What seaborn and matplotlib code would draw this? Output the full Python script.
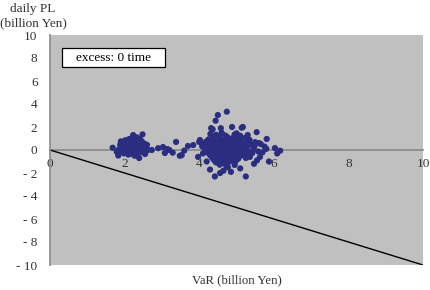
import matplotlib
matplotlib.use("Agg")
import matplotlib.pyplot as plt
import matplotlib.patches as mpatches
import seaborn as sns
import pandas as pd

# ---- data ----
cluster_a = [
    (1.68, 0.20), (1.79, -0.15), (1.83, -0.48), (1.85, 0.05), (1.88, 0.45), (1.90, 0.75),
    (1.92, -0.10), (1.95, 0.30), (1.97, 0.60), (1.98, -0.30), (2.00, 0.10), (2.02, 0.85),
    (2.03, 0.40), (2.05, -0.20), (2.06, 0.15), (2.08, 0.65), (2.10, -0.40), (2.10, 0.30),
    (2.12, 0.95), (2.13, 0.05), (2.15, 0.50), (2.16, -0.15), (2.18, 0.25), (2.19, 0.75),
    (2.20, 1.05), (2.21, -0.35), (2.22, 0.10), (2.23, 1.30), (2.24, 0.45), (2.25, -0.05),
    (2.26, 0.60), (2.27, 0.20), (2.28, 0.90), (2.29, -0.25), (2.30, 0.35), (2.31, 0.70),
    (2.32, 0.00), (2.33, 1.10), (2.34, 0.50), (2.35, -0.45), (2.36, 0.25), (2.37, 0.80),
    (2.38, 0.10), (2.39, -0.70), (2.40, 0.40), (2.41, 0.95), (2.42, -0.10), (2.43, 0.60),
    (2.45, 0.20), (2.46, 0.75), (2.48, 1.36), (2.49, -0.20), (2.50, 0.35), (2.52, 0.05),
    (2.53, 0.55), (2.55, -0.35), (2.57, 0.20), (2.60, 0.45), (2.63, 0.00), (2.00, 0.55),
    (2.14, 0.70), (2.27, -0.50), (2.44, 0.30), (2.35, 0.15),
]
bridge = [
    (2.73, 0.00), (2.90, 0.16), (3.03, 0.26), (3.08, -0.26), (3.20, 0.00), (3.29, -0.23),
    (3.38, 0.70), (3.48, -0.50), (3.53, -0.45), (3.70, 0.35), (3.84, 0.43), (4.00, 0.70),
    (3.15, 0.08), (3.60, -0.05),
]
cluster_c_outer = [
    (4.74, 3.33), (4.50, 3.04), (4.44, 2.55), (4.32, 1.90), (4.36, 1.80), (4.58, 1.90),
    (4.88, 2.00), (5.14, 1.94), (5.17, 2.00), (5.54, 1.55), (5.81, 0.96), (6.17, -0.06),
    (6.09, -0.30), (6.03, 0.17), (5.87, -1.00), (5.47, -1.20), (5.63, -0.60), (5.36, -0.60),
    (5.25, -2.30), (4.42, -2.30), (4.56, -2.00), (4.29, -1.70), (4.77, -1.50), (4.02, 0.87),
    (3.97, -0.60), (4.16, 0.17), (4.30, 1.40), (4.60, 1.50), (5.00, 1.45), (5.30, 1.30),
    (5.60, 0.60), (5.75, 0.30), (5.70, -0.20), (5.55, -0.90), (5.10, -1.60), (4.95, -1.30),
    (4.65, -1.80), (4.85, -1.90), (4.10, -0.30), (4.20, -1.00),
]
cluster_c_core = [
    (4.45, 1.32), (4.70, 1.26), (4.95, 1.35), (5.10, 1.24),
    (4.35, 1.12), (4.55, 1.06), (4.75, 1.14), (4.90, 1.05), (5.05, 1.12), (5.25, 1.08),
    (4.25, 0.92), (4.40, 0.86), (4.55, 0.95), (4.68, 0.88), (4.82, 0.93), (4.97, 0.85), (5.12, 0.94), (5.35, 0.88),
    (4.18, 0.72), (4.30, 0.66), (4.45, 0.74), (4.58, 0.68), (4.70, 0.75), (4.85, 0.66), (5.00, 0.72),
    (5.15, 0.67), (5.30, 0.74), (5.50, 0.68),
    (4.12, 0.52), (4.25, 0.46), (4.38, 0.55), (4.50, 0.48), (4.62, 0.53), (4.75, 0.45), (4.88, 0.54),
    (5.02, 0.47), (5.18, 0.52), (5.40, 0.46), (5.65, 0.52),
    (4.08, 0.32), (4.22, 0.27), (4.35, 0.34), (4.48, 0.26), (4.60, 0.33), (4.72, 0.28), (4.85, 0.35),
    (4.98, 0.27), (5.12, 0.32), (5.28, 0.26), (5.48, 0.33),
    (4.15, 0.12), (4.28, 0.06), (4.42, 0.14), (4.55, 0.07), (4.68, 0.13), (4.80, 0.05), (4.93, 0.12),
    (5.06, 0.08), (5.22, 0.13), (5.45, 0.06), (5.80, 0.10),
    (4.20, -0.08), (4.33, -0.14), (4.46, -0.06), (4.58, -0.13), (4.70, -0.07), (4.83, -0.12),
    (4.96, -0.05), (5.10, -0.13), (5.30, -0.08), (5.58, -0.12),
    (4.25, -0.28), (4.38, -0.34), (4.50, -0.26), (4.63, -0.33), (4.76, -0.27), (4.90, -0.34),
    (5.05, -0.28), (5.20, -0.33), (5.42, -0.27),
    (4.30, -0.48), (4.43, -0.54), (4.56, -0.46), (4.68, -0.53), (4.82, -0.47), (4.95, -0.54),
    (5.12, -0.48), (5.30, -0.52),
    (4.35, -0.68), (4.48, -0.74), (4.62, -0.66), (4.75, -0.73), (4.90, -0.67), (5.05, -0.74), (5.25, -0.69),
    (4.40, -0.88), (4.55, -0.94), (4.70, -0.86), (4.85, -0.93), (5.00, -0.87),
    (4.45, -1.08), (4.62, -1.14), (4.78, -1.06), (4.95, -1.12),
    (4.55, -1.28), (4.72, -1.33),
]

points = cluster_a + bridge + cluster_c_outer + cluster_c_core
var_values = [p[0] for p in points]
daily_pl = [p[1] for p in points]

line_var = [0, 10]
line_pl = [0, -10]

x_ticks = [0, 2, 4, 6, 8, 10]
y_ticks = [10, 8, 6, 4, 2, 0, -2, -4, -6, -8, -10]
y_tick_labels = ["10", "8", "6", "4", "2", "0", "- 2", "- 4", "- 6", "- 8", "- 10"]

df = pd.DataFrame({"VaR": var_values, "PL": daily_pl})
line_df = pd.DataFrame({"VaR": line_var, "PL": line_pl})

# ---- plot ----
sns.set_theme(style="white")
plt.rcParams["font.family"] = ["Liberation Serif", "DejaVu Serif"]

fig = plt.figure(figsize=(4.3, 2.9), dpi=100)
ax = fig.add_axes([50 / 430, 1 - 265 / 290, 373 / 430, 230 / 290])
ax.set_facecolor("#C0C0C0")

sns.lineplot(data=line_df, x="VaR", y="PL", ax=ax, color="black", linewidth=1.0, zorder=2)
sns.scatterplot(data=df, x="VaR", y="PL", ax=ax, color="#2B2E80", s=20,
                edgecolor="none", linewidth=0, zorder=3)

ax.set_xlim(0, 10)
ax.set_ylim(-10, 10)
ax.set_xticks(x_ticks)
ax.set_xticklabels([str(t) for t in x_ticks])
ax.set_yticks(y_ticks)
ax.set_yticklabels(y_tick_labels)
ax.set_xlabel("")
ax.set_ylabel("")

for s in ["top", "right"]:
    ax.spines[s].set_visible(False)
ax.spines["bottom"].set_position(("data", 0))
ax.spines["bottom"].set_color("#8C8C8C")
ax.spines["left"].set_color("#8C8C8C")
ax.spines["bottom"].set_zorder(1)

ax.tick_params(axis="x", direction="in", length=3, color="#8C8C8C", labelsize=9.5,
               labelcolor="#333333", pad=6)
ax.tick_params(axis="y", direction="out", length=3, color="#8C8C8C", labelsize=9.5,
               labelcolor="#333333", pad=6)
for lab in ax.get_xticklabels():
    lab.set_zorder(1)

# annotation box
trans = ax.get_yaxis_transform()
box = mpatches.Rectangle((0.032, 7.2), 0.276, 1.67, transform=trans, facecolor="white",
                         edgecolor="black", linewidth=0.9, zorder=4)
ax.add_patch(box)
ax.text(0.032 + 0.276 / 2, 8.03, "excess: 0 time", transform=trans, fontsize=9.5,
        va="center", ha="center", color="black", zorder=5)

fig.text(33 / 430, 1 - 16 / 290, "daily PL\n(billion Yen)", ha="center", va="center",
         fontsize=9.5, color="#333333", linespacing=1.2)
fig.text(237 / 430, 1 - 280 / 290, "VaR (billion Yen)", ha="center", va="center",
         fontsize=9.2, color="#333333")

fig.savefig("out.png", dpi=100)
